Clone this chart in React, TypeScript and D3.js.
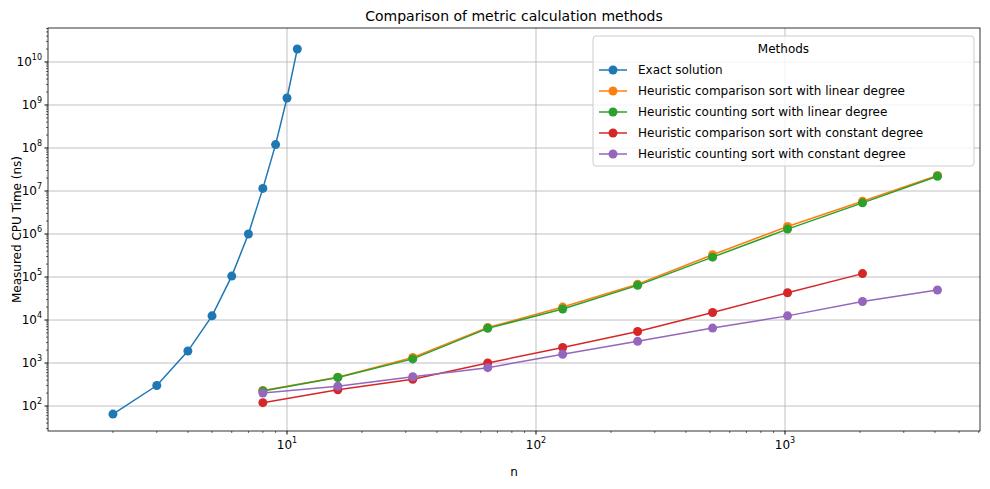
import * as d3 from 'd3';

const exactN = [2, 3, 4, 5, 6, 7, 8, 9, 10, 11];
const exactT = [65, 300, 1900, 12500, 105000, 1e6, 1.15e7, 1.2e8, 1.45e9, 2e10];
const heurN = [8, 16, 32, 64, 128, 256, 512, 1024, 2048, 4096];
const cmpLinear = [230, 470, 1350, 6700, 20000, 68000, 330000, 1.5e6, 5.8e6, 2.3e7];
const cntLinear = [225, 460, 1250, 6400, 18000, 64000, 290000, 1.3e6, 5.3e6, 2.2e7];
const cmpConst = [120, 240, 420, 1000, 2300, 5400, 15000, 43000, 120000];
const cntConst = [200, 290, 480, 780, 1600, 3200, 6500, 12500, 27000, 50000];

const series = [
  { name: 'Exact solution', color: '#1f77b4', xs: exactN, ys: exactT },
  { name: 'Heuristic comparison sort with linear degree', color: '#ff7f0e', xs: heurN, ys: cmpLinear },
  { name: 'Heuristic counting sort with linear degree', color: '#2ca02c', xs: heurN, ys: cntLinear },
  { name: 'Heuristic comparison sort with constant degree', color: '#d62728', xs: heurN, ys: cmpConst },
  { name: 'Heuristic counting sort with constant degree', color: '#9467bd', xs: heurN, ys: cntConst },
];

const W = 990, H = 489;
const m = { l: 48, r: 10, t: 28, b: 58 };

export default function App() {
  const x = d3.scaleLog().domain([1.097, 6070]).range([m.l, W - m.r]);
  const y = d3.scaleLog().domain([10 ** 1.42, 10 ** 10.79]).range([H - m.b, m.t]);
  const xMajor = [1, 2, 3].map((e) => 10 ** e);
  const yMajor = d3.range(2, 11).map((e) => 10 ** e);
  const xMinor: number[] = [];
  for (let e = 0; e <= 3; e++) for (let k = 2; k <= 9; k++) {
    const v = k * 10 ** e;
    if (v > 1.097 && v < 6070) xMinor.push(v);
  }
  const yMinor: number[] = [];
  for (let e = 1; e <= 10; e++) for (let k = 2; k <= 9; k++) {
    const v = k * 10 ** e;
    if (v > 10 ** 1.42 && v < 10 ** 10.79) yMinor.push(v);
  }
  const line = d3.line<[number, number]>().x((d) => x(d[0])).y((d) => y(d[1]));
  const bottom = H - m.b;
  const lx = 593, ly = 36, lw = 381, lh = 130;
  return (
    <svg width={W} height={H} style={{ position: 'absolute', left: 0, top: 0 }} fontFamily="DejaVu Sans">
      <rect width={W} height={H} fill="#fff" />
      {xMajor.map((v) => (
        <line key={'gx' + v} x1={x(v)} x2={x(v)} y1={m.t} y2={bottom} stroke="#b0b0b0" strokeWidth={0.8} />
      ))}
      {yMajor.map((v) => (
        <line key={'gy' + v} x1={m.l} x2={W - m.r} y1={y(v)} y2={y(v)} stroke="#b0b0b0" strokeWidth={0.8} />
      ))}
      {series.map((s) => {
        const pts = s.xs.slice(0, s.ys.length).map((n, i) => [n, s.ys[i]] as [number, number]);
        return (
          <g key={s.name}>
            <path d={line(pts) || ''} fill="none" stroke={s.color} strokeWidth={1.5} />
            {pts.map((p, i) => <circle key={i} cx={x(p[0])} cy={y(p[1])} r={4.5} fill={s.color} />)}
          </g>
        );
      })}
      <rect x={m.l} y={m.t} width={W - m.l - m.r} height={bottom - m.t} fill="none" stroke="#000" strokeWidth={0.8} />
      {xMajor.map((v) => (
        <g key={'tx' + v}>
          <line x1={x(v)} x2={x(v)} y1={bottom} y2={bottom + 3.5} stroke="#000" />
          <text x={x(v)} y={bottom + 18} fontSize={12} textAnchor="middle">10<tspan dy={-6} fontSize={8}>{Math.log10(v)}</tspan></text>
        </g>
      ))}
      {xMinor.map((v) => <line key={'mx' + v} x1={x(v)} x2={x(v)} y1={bottom} y2={bottom + 2} stroke="#000" strokeWidth={0.6} />)}
      {yMajor.map((v) => (
        <g key={'ty' + v}>
          <line x1={m.l - 3.5} x2={m.l} y1={y(v)} y2={y(v)} stroke="#000" />
          <text x={m.l - 6} y={y(v) + 4} fontSize={12} textAnchor="end">10<tspan dy={-6} fontSize={8}>{Math.log10(v)}</tspan></text>
        </g>
      ))}
      {yMinor.map((v) => <line key={'my' + v} x1={m.l - 2} x2={m.l} y1={y(v)} y2={y(v)} stroke="#000" strokeWidth={0.6} />)}
      <text x={(m.l + W - m.r) / 2} y={21} fontSize={14} textAnchor="middle">Comparison of metric calculation methods</text>
      <text x={(m.l + W - m.r) / 2} y={476} fontSize={12} textAnchor="middle">n</text>
      <text transform={`translate(21,${(m.t + bottom) / 2}) rotate(-90)`} fontSize={12} textAnchor="middle">Measured CPU Time (ns)</text>
      <rect x={lx} y={ly} width={lw} height={lh} fill="#fff" fillOpacity={0.8} stroke="#ccc" rx={3} />
      <text x={lx + lw / 2} y={ly + 17} fontSize={12} textAnchor="middle">Methods</text>
      {series.map((s, i) => {
        const yy = ly + 34 + i * 21;
        return (
          <g key={'lg' + s.name}>
            <line x1={lx + 6} x2={lx + 34} y1={yy} y2={yy} stroke={s.color} strokeWidth={1.5} />
            <circle cx={lx + 20} cy={yy} r={4.5} fill={s.color} />
            <text x={lx + 45} y={yy + 4} fontSize={12}>{s.name}</text>
          </g>
        );
      })}
    </svg>
  );
}
